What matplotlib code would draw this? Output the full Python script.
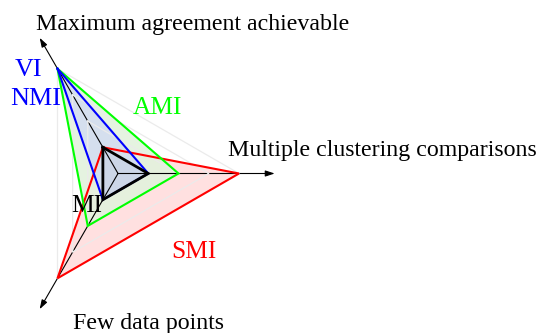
import numpy as np
import matplotlib
matplotlib.use("Agg")
import matplotlib.pyplot as plt

# Three criteria, one per axis of the radar
axis_labels = ["Maximum agreement achievable",
               "Multiple clustering comparisons",
               "Few data points"]
axis_angles = [120, 0, 240]          # degrees, counter-clockwise from +x

# Score of each clustering comparison measure on the three criteria
mi_scores = [1, 1, 1]
nmi_vi_scores = [4, 1, 1]
ami_scores = [4, 2, 2]
smi_scores = [1, 4, 4]
grid_levels = [1, 2, 3, 4]
axis_extent = 5.18

W, H, DPI = 540, 333, 100
UNIT = 30.25                 # pixels per score unit
ORIGIN = (118.0, 173.5)      # pixel position of the radar centre

plt.rcParams["font.family"] = ["Liberation Serif", "DejaVu Serif"]

fig = plt.figure(figsize=(W / DPI, H / DPI), dpi=DPI)
ax = fig.add_axes([0, 0, 1, 1])
ax.set_xlim(-ORIGIN[0] / UNIT, (W - ORIGIN[0]) / UNIT)
ax.set_ylim(-(H - ORIGIN[1]) / UNIT, ORIGIN[1] / UNIT)
ax.axis("off")

theta = np.deg2rad(axis_angles)


def polygon(values):
    v = np.asarray(values, dtype=float)
    return v * np.cos(theta), v * np.sin(theta)


# layered pale fills
x, y = polygon(smi_scores)
ax.fill(x, y, color=(1.0, 0.0, 0.0), alpha=0.12, lw=0, zorder=1)
x, y = polygon(ami_scores)
ax.fill(x, y, color=(0.89, 0.95, 0.865), alpha=0.9, lw=0, zorder=1.1)
x, y = polygon(nmi_vi_scores)
ax.fill(x, y, color=(0.83, 0.87, 0.94), alpha=0.92, lw=0, zorder=1.2)
x, y = polygon(mi_scores)
ax.fill(x, y, color=(0.2, 0.25, 0.4), alpha=0.05, lw=0, zorder=1.3)

# axes with arrow heads
for t in theta:
    ax.annotate("", xy=(axis_extent * np.cos(t), axis_extent * np.sin(t)),
                xytext=(0, 0),
                arrowprops=dict(arrowstyle="-|>,head_length=0.55,head_width=0.18",
                                lw=0.8, color="black", shrinkA=0, shrinkB=0),
                zorder=2)

# faint grid triangles
for lvl in grid_levels:
    gx, gy = polygon([lvl] * 3)
    ax.plot(np.append(gx, gx[0]), np.append(gy, gy[0]),
            color="#ebebeb", lw=0.9, zorder=3)

# polygon outlines
for scores, col, lw in [(smi_scores, "#ff0000", 1.5),
                        (ami_scores, "#00ff00", 1.5),
                        (nmi_vi_scores, "#0000ff", 1.5),
                        (mi_scores, "black", 2.0)]:
    px_, py_ = polygon(scores)
    ax.plot(np.append(px_, px_[0]), np.append(py_, py_[0]),
            color=col, lw=lw, solid_joinstyle="miter", zorder=4)


def label(text, left, baseline, color="black", size=17.2):
    fig.text(left / W, 1 - baseline / H, text, color=color, fontsize=size,
             ha="left", va="baseline", zorder=5)


label(axis_labels[0], 36.5, 30)
label(axis_labels[1], 228, 156)
label(axis_labels[2], 72.5, 329.5)

label("VI", 14.5, 76, "#0000ff", 18.8)
label("NMI", 10.5, 105, "#0000ff", 18.8)
label("AMI", 132.5, 114, "#00ff00", 18.3)
label("MI", 71, 211.5, "black", 18.3)
label("SMI", 171, 258, "#ff0000", 18.3)

fig.savefig("out.png", dpi=DPI)
